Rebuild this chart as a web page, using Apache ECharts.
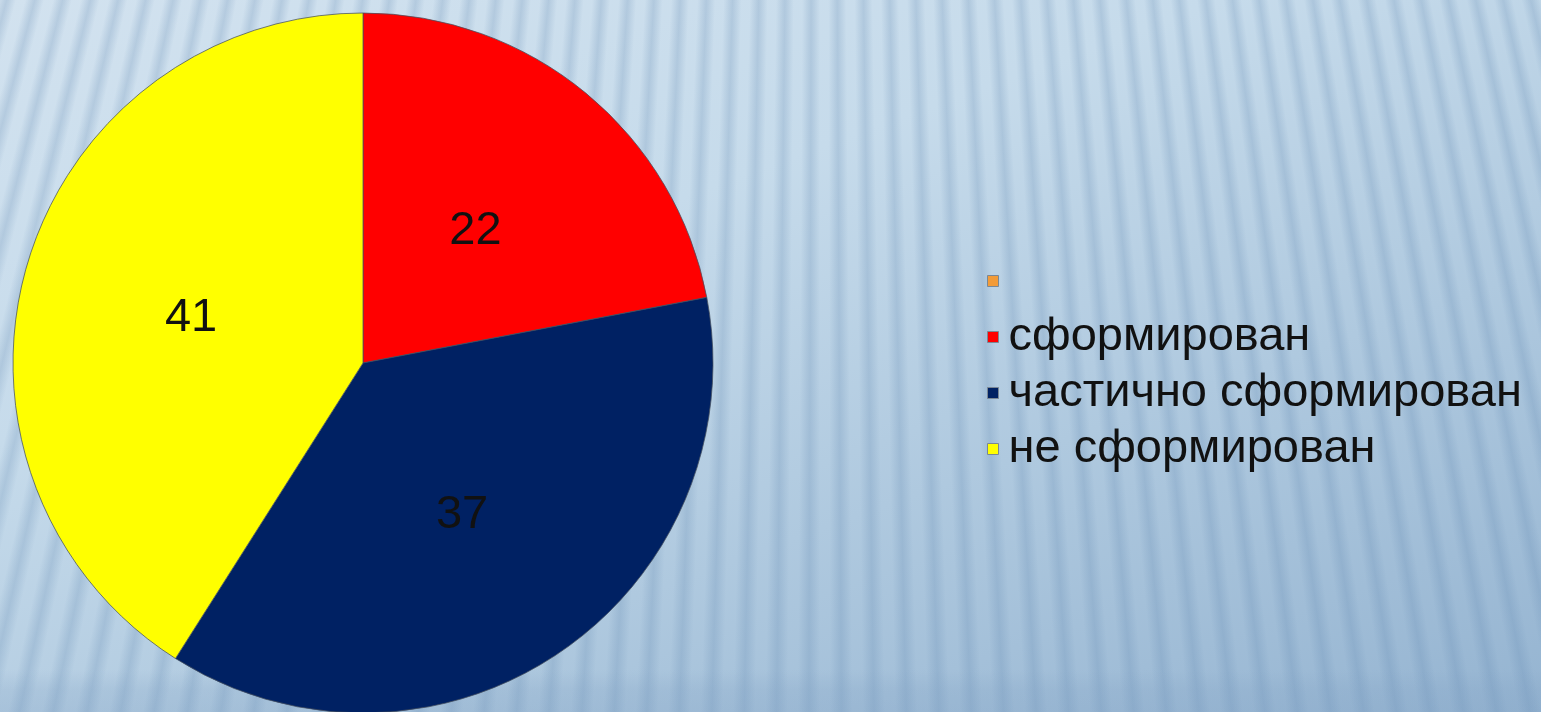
<!DOCTYPE html>
<html>
<head>
<meta charset="utf-8">
<script src="https://cdn.jsdelivr.net/npm/echarts@6/dist/echarts.min.js"></script>
<style>
  html, body { margin: 0; padding: 0; width: 1541px; height: 712px; overflow: hidden; }
  body {
    background:
      linear-gradient(to bottom, rgba(130,162,196,0) 0px, rgba(130,162,196,0) 670px, rgba(130,162,196,0.22) 690px, rgba(130,162,196,0.28) 712px),
      repeating-conic-gradient(from 180deg at 820px -3000px,
        rgba(100,138,178,0) 0deg,
        rgba(100,138,178,0.18) 0.12deg,
        rgba(100,138,178,0.25) 0.17deg,
        rgba(100,138,178,0.18) 0.22deg,
        rgba(100,138,178,0) 0.34deg,
        rgba(100,138,178,0) 0.5deg),
      linear-gradient(160deg, #d2e2ef 0%, #c6dbeb 35%, #afc9df 65%, #95b4d1 100%);
  }
  #chart { width: 1541px; height: 712px; }
</style>
</head>
<body>
<div id="chart"></div>
<script>
// Share of pupils by level: first category carries no label and no value
const categories = ['\u00A0', 'сформирован', 'частично сформирован', 'не сформирован'];
const values = [0, 22, 37, 41];
const colors = ['#f29b38', '#ff0000', '#002163', '#ffff00'];

const chart = echarts.init(document.getElementById('chart'), null, { renderer: 'canvas' });

const pieData = categories.map((name, i) => ({
  name: name,
  value: values[i],
  itemStyle: { color: colors[i] },
  label: { show: values[i] > 0 }
}));

chart.setOption({
  backgroundColor: 'transparent',
  animation: false,
  legend: {
    orient: 'vertical',
    left: 982,
    top: 248,
    itemWidth: 11,
    itemHeight: 11,
    itemGap: 0,
    icon: 'rect',
    selectedMode: false,
    data: categories,
    itemStyle: { borderColor: '#7a8794', borderWidth: 1 },
    textStyle: {
      fontFamily: 'Liberation Sans, Arial, sans-serif',
      fontSize: 47,
      color: '#111',
      lineHeight: 56,
      padding: [0, 0, 0, 5]
    }
  },
  series: [{
    type: 'pie',
    center: [363, 363],
    radius: 350,
    startAngle: 90,
    clockwise: true,
    minAngle: 0,
    stillShowZeroSum: true,
    avoidLabelOverlap: false,
    label: {
      position: 'inside',
      formatter: '{c}',
      fontFamily: 'Liberation Sans, Arial, sans-serif',
      fontSize: 47,
      color: '#111',
      offset: [-1, 5]
    },
    labelLine: { show: false },
    itemStyle: { borderColor: 'rgba(70,80,95,0.75)', borderWidth: 1 },
    emphasis: { disabled: true },
    data: pieData
  }]
});
</script>
</body>
</html>
